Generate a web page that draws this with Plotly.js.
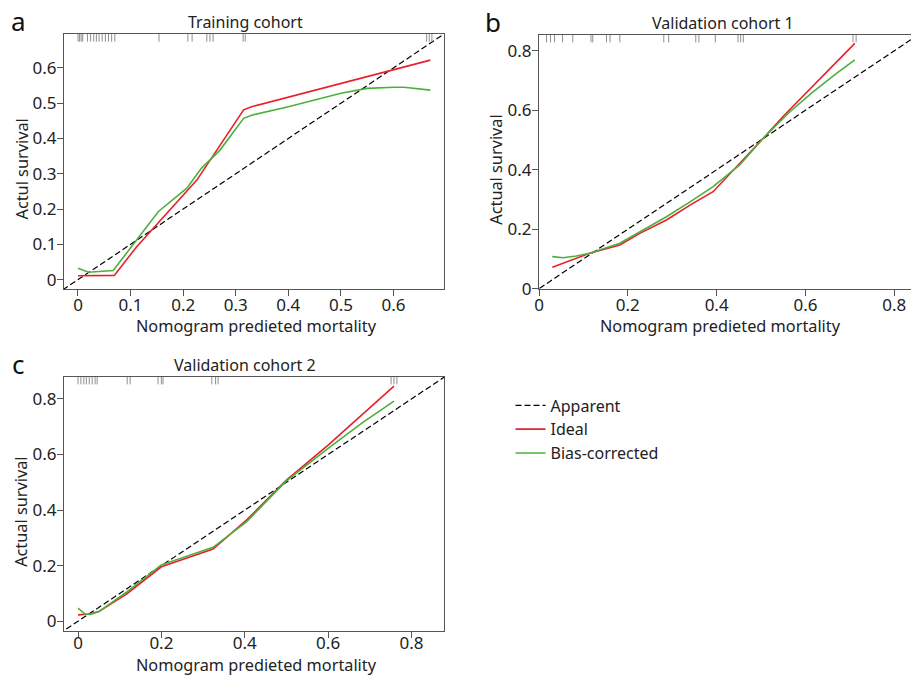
<!DOCTYPE html>
<html>
<head>
<meta charset="utf-8">
<script src="https://cdn.plot.ly/plotly-3.0.1.min.js"></script>
<style>html,body{margin:0;padding:0;background:#fff}#chart{width:911px;height:677px}</style>
</head>
<body>
<div id="chart"></div>
<script>
// ---------- data ----------
const diagonal = [-0.1, 1.0];

// Panel a: Training cohort
const aIdealX = [0, 0.069, 0.112, 0.175, 0.207, 0.226, 0.264, 0.3, 0.315, 0.33, 0.4, 0.5, 0.6, 0.67];
const aIdealY = [0.011, 0.012, 0.094, 0.197, 0.249, 0.282, 0.367, 0.445, 0.481, 0.49, 0.517, 0.556, 0.596, 0.622];
const aBiasX = [0, 0.02, 0.067, 0.112, 0.153, 0.207, 0.235, 0.27, 0.3, 0.315, 0.33, 0.4, 0.5, 0.55, 0.6, 0.62, 0.67];
const aBiasY = [0.032, 0.021, 0.026, 0.112, 0.193, 0.259, 0.316, 0.367, 0.429, 0.457, 0.466, 0.49, 0.528, 0.542, 0.545, 0.545, 0.537];
const aRug = [0, 0.003, 0.006, 0.009, 0.018, 0.024, 0.03, 0.035, 0.04, 0.046, 0.052, 0.058, 0.064, 0.07,
              0.154, 0.209, 0.217, 0.245, 0.251, 0.257, 0.314, 0.318, 0.663, 0.668, 0.673];

// Panel b: Validation cohort 1
const bIdealX = [0.03, 0.114, 0.182, 0.227, 0.287, 0.34, 0.392, 0.452, 0.505, 0.55, 0.711];
const bIdealY = [0.072, 0.119, 0.147, 0.186, 0.231, 0.281, 0.326, 0.421, 0.506, 0.58, 0.825];
const bBiasX = [0.03, 0.054, 0.084, 0.114, 0.182, 0.227, 0.287, 0.34, 0.392, 0.452, 0.505, 0.565, 0.617, 0.67, 0.711];
const bBiasY = [0.108, 0.104, 0.11, 0.119, 0.153, 0.192, 0.242, 0.292, 0.343, 0.416, 0.506, 0.595, 0.662, 0.724, 0.769];
const bRug = [0.017, 0.026, 0.035, 0.053, 0.076, 0.117, 0.121, 0.152, 0.16, 0.182,
              0.281, 0.292, 0.353, 0.36, 0.397, 0.448, 0.454, 0.46, 0.707, 0.714];

// Panel c: Validation cohort 2
const cIdealX = [0, 0.026, 0.05, 0.118, 0.2, 0.324, 0.404, 0.5, 0.6, 0.758];
const cIdealY = [0.023, 0.026, 0.035, 0.1, 0.196, 0.26, 0.364, 0.508, 0.634, 0.846];
const cBiasX = [0, 0.017, 0.03, 0.05, 0.118, 0.2, 0.324, 0.404, 0.5, 0.6, 0.68, 0.758];
const cBiasY = [0.047, 0.026, 0.025, 0.035, 0.107, 0.203, 0.266, 0.358, 0.505, 0.622, 0.712, 0.792];
const cRug = [0, 0.007, 0.014, 0.02, 0.027, 0.034, 0.041, 0.046, 0.118, 0.125,
              0.192, 0.2, 0.204, 0.321, 0.33, 0.336, 0.751, 0.758, 0.765];

const seriesNames = ['Apparent', 'Ideal', 'Bias-corrected'];
const panelTitles = ['Training cohort', 'Validation cohort 1', 'Validation cohort 2'];
const panelLetters = ['a', 'b', 'c'];
const xTitle = 'Nomogram predieted mortality';
const yTitles = ['Actul survival', 'Actual survival', 'Actual survival'];
const ticks01 = [0, 0.1, 0.2, 0.3, 0.4, 0.5, 0.6];
const ticks02 = [0, 0.2, 0.4, 0.6, 0.8];

// ---------- styles / layout geometry ----------
const FONT = 'Noto Sans, Open Sans, sans-serif';
const RED = '#e8202a';
const GREEN = '#4caf3e';
const RUG = '#8f8f8f';
const W = 911, H = 677;

// plot boxes in pixels: left, right, top, bottom; xtOff = x-title centre offset below the box
const boxes = [
  {l: 64, r: 444, t: 34, b: 289, xr: [-0.0266, 0.696], yr: [-0.0266, 0.696], tv: ticks01, xtOff: 37, xso: -5},
  {l: 539, r: 911, t: 34.7, b: 288.7, xr: [0, 0.8376], yr: [0, 0.854], tv: ticks02, xtOff: 37, xso: -5},
  {l: 64, r: 444, t: 376.7, b: 631, xr: [-0.0336, 0.878], yr: [-0.035, 0.88], tv: ticks02, xtOff: 34.3, xso: -9}
];
const panelData = [
  {idx: [aIdealX, aIdealY], bias: [aBiasX, aBiasY], rug: aRug},
  {idx: [bIdealX, bIdealY], bias: [bBiasX, bBiasY], rug: bRug},
  {idx: [cIdealX, cIdealY], bias: [cBiasX, cBiasY], rug: cRug}
];

const traces = [];
const layout = {
  width: W, height: H, margin: {l: 0, r: 0, t: 0, b: 0},
  paper_bgcolor: '#fff', plot_bgcolor: '#fff',
  font: {family: FONT, color: '#222'},
  showlegend: true,
  legend: {x: 0.5604, y: 0.4262, xanchor: 'left', yanchor: 'top', bgcolor: 'rgba(0,0,0,0)',
    font: {family: FONT, size: 16, color: '#222'}, tracegroupgap: 0, itemwidth: 30},
  annotations: []
};
const tickFont = {family: FONT, size: 17, color: '#222'};

boxes.forEach((bx, i) => {
  const sfx = i === 0 ? '' : String(i + 1);
  const xa = 'x' + sfx, ya = 'y' + sfx;
  const p = panelData[i];
  const common = {ticks: 'outside', ticklen: 6, tickwidth: 1, tickcolor: '#555', showline: true, mirror: true,
    linecolor: '#555', linewidth: 1, showgrid: false, zeroline: false, tickfont: tickFont, automargin: false,
    tickvals: bx.tv};
  layout['xaxis' + sfx] = Object.assign({}, common, {domain: [bx.l / W, bx.r / W], range: bx.xr, anchor: ya,
    ticklabelstandoff: bx.xso});
  layout['yaxis' + sfx] = Object.assign({}, common, {domain: [1 - bx.b / H, 1 - bx.t / H], range: bx.yr, anchor: xa,
    ticklabelstandoff: -3});

  const show = i === 0;
  traces.push({x: diagonal, y: diagonal, xaxis: xa, yaxis: ya, mode: 'lines', name: seriesNames[0],
    line: {color: '#000', width: 1.2, dash: '6px,3px'}, showlegend: show, hoverinfo: 'skip'});
  traces.push({x: p.idx[0], y: p.idx[1], xaxis: xa, yaxis: ya, mode: 'lines', name: seriesNames[1],
    line: {color: RED, width: 1.6}, showlegend: show});
  traces.push({x: p.bias[0], y: p.bias[1], xaxis: xa, yaxis: ya, mode: 'lines', name: seriesNames[2],
    line: {color: GREEN, width: 1.6}, showlegend: show});
  // rug of predicted values just inside the top of the box (3.5 px below the top edge)
  const yTop = bx.yr[1] - 3.5 / (bx.b - bx.t) * (bx.yr[1] - bx.yr[0]);
  traces.push({x: p.rug, y: p.rug.map(() => yTop), xaxis: xa, yaxis: ya, mode: 'markers', showlegend: false,
    marker: {symbol: 'line-ns-open', size: 6, color: RUG, line: {color: RUG, width: 1}}, hoverinfo: 'x'});

  // panel title, panel letter, axis titles
  const cx = i === 1 ? 723 : 245;
  layout.annotations.push({text: panelTitles[i], x: cx / W, y: 1 - (bx.t - 12) / H, xref: 'paper', yref: 'paper',
    xanchor: 'center', yanchor: 'middle', showarrow: false, font: {family: FONT, size: 16, color: '#222'}});
  layout.annotations.push({text: panelLetters[i], x: (bx.l - 46) / W, y: 1 - (bx.t - 13) / H, xref: 'paper', yref: 'paper',
    xanchor: 'center', yanchor: 'middle', showarrow: false, font: {family: FONT, size: 26, color: '#111'}});
  const xtc = i === 1 ? 720 : 256;
  layout.annotations.push({text: xTitle, x: xtc / W, y: 1 - (bx.b + bx.xtOff) / H, xref: 'paper', yref: 'paper',
    xanchor: 'center', yanchor: 'middle', showarrow: false, font: {family: FONT, size: 16.3, color: '#222'}});
  layout.annotations.push({text: yTitles[i], x: (bx.l - 43) / W, y: 1 - ((bx.t + bx.b) / 2 + 8) / H, xref: 'paper', yref: 'paper',
    xanchor: 'center', yanchor: 'middle', textangle: -90, showarrow: false, font: {family: FONT, size: 16.3, color: '#222'}});
});

Plotly.newPlot('chart', traces, layout, {displayModeBar: false, staticPlot: true});
</script>
</body>
</html>
